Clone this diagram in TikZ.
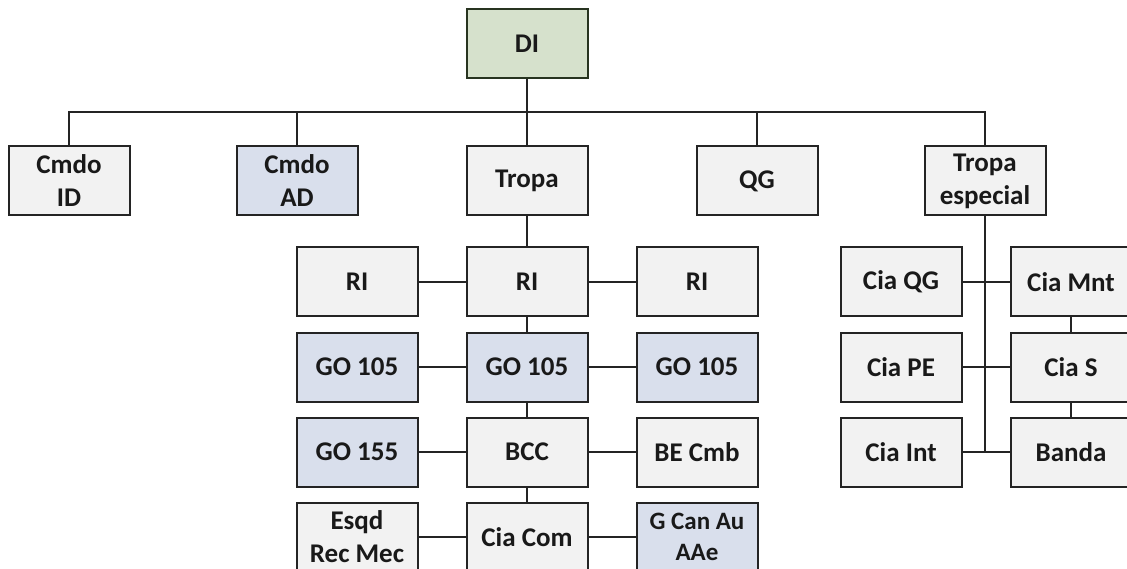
\documentclass[tikz,border=0pt]{standalone}
\usepackage{fontspec}
\setmainfont{Carlito}
\usepackage{tikz}
\usetikzlibrary{positioning}
\usepackage{xcolor}
\definecolor{boxgray}{RGB}{242,242,242}
\definecolor{boxblue}{RGB}{217,223,236}
\definecolor{boxgreen}{RGB}{214,225,204}
\definecolor{greenline}{RGB}{40,52,32}
\definecolor{linegray}{RGB}{36,36,36}

\begin{document}
\begin{tikzpicture}[
    x=1pt, y=1pt,
    node distance=14pt and 47pt,
    unit/.style={rectangle, draw=linegray, line width=2pt, fill=boxgray, minimum width=121pt, minimum height=69pt, inner sep=0pt, align=center, text=black!90, font=\fontsize{27}{33}\selectfont\bfseries},
    support/.style={unit, fill=boxblue},
    command/.style={unit, fill=boxgreen, draw=greenline},
    link/.style={draw=linegray, line width=2pt}
]
    \useasboundingbox (0,0) rectangle (1127,-569);
    \clip (0,0) rectangle (1127,-569);

    % top of the structure
    \node[command] (di) at (527,-43.5) {DI};
    \node[unit] (tropa) at (527,-181) {Tropa};
    \node[support] (cmdoad) [left=107pt of tropa] {Cmdo\\AD};
    \node[unit] (cmdoid) [left=105pt of cmdoad] {Cmdo\\ID};
    \node[unit] (qg) [right=107pt of tropa] {QG};
    \node[unit] (tropaesp) [right=105pt of qg] {Tropa\\especial};

    % tropa
    \node[unit] (ri) [below=30pt of tropa] {RI};
    \node[unit] (rileft) [left=of ri] {RI};
    \node[unit] (riright) [right=of ri] {RI};
    \node[support] (go) [below=of ri] {GO 105};
    \node[support] (goleft) [left=of go] {GO 105};
    \node[support] (goright) [right=of go] {GO 105};
    \node[unit] (bcc) [below=of go] {BCC};
    \node[support] (gotrc) [left=of bcc] {GO 155};
    \node[unit] (becmb) [right=of bcc] {BE Cmb};
    \node[unit] (ciacom) [below=of bcc] {Cia Com};
    \node[unit] (esqd) [left=of ciacom] {Esqd\\Rec Mec};
    \node[support, font=\fontsize{25}{31}\selectfont\bfseries] (gcan) [right=of ciacom] {G Can Au\\AAe};

    % tropa especial
    \node[unit] (ciaqg) [right=81pt of riright] {Cia QG};
    \node[unit] (ciamnt) [right=of ciaqg] {Cia Mnt};
    \node[unit] (ciape) [below=of ciaqg] {Cia PE};
    \node[unit] (cias) [below=of ciamnt] {Cia S};
    \node[unit] (ciaint) [below=of ciape] {Cia Int};
    \node[unit] (banda) [below=of cias] {Banda};

    % links
    \draw[link] (cmdoid.north) -- ++(0,33) coordinate (bus) -| (tropaesp.north);
    \draw[link] (cmdoad.north) -- (cmdoad.north |- bus);
    \draw[link] (qg.north) -- (qg.north |- bus);
    \draw[link] (di) -- (tropa);

    \draw[link] (tropa) -- (ri);
    \draw[link] (ri) -- (go);
    \draw[link] (go) -- (bcc);
    \draw[link] (bcc) -- (ciacom);
    \draw[link] (rileft) -- (ri);
    \draw[link] (ri) -- (riright);
    \draw[link] (goleft) -- (go);
    \draw[link] (go) -- (goright);
    \draw[link] (gotrc) -- (bcc);
    \draw[link] (bcc) -- (becmb);
    \draw[link] (esqd) -- (ciacom);
    \draw[link] (ciacom) -- (gcan);

    \coordinate (trunk) at (tropaesp.south |- ciaint);
    \draw[link] (tropaesp.south) -- (trunk);
    \draw[link] (ciaqg) -- (ciamnt);
    \draw[link] (ciape) -- (cias);
    \draw[link] (ciaint) -- (banda);
    \draw[link] (ciamnt) -- (cias);
    \draw[link] (cias) -- (banda);
\end{tikzpicture}
\end{document}
